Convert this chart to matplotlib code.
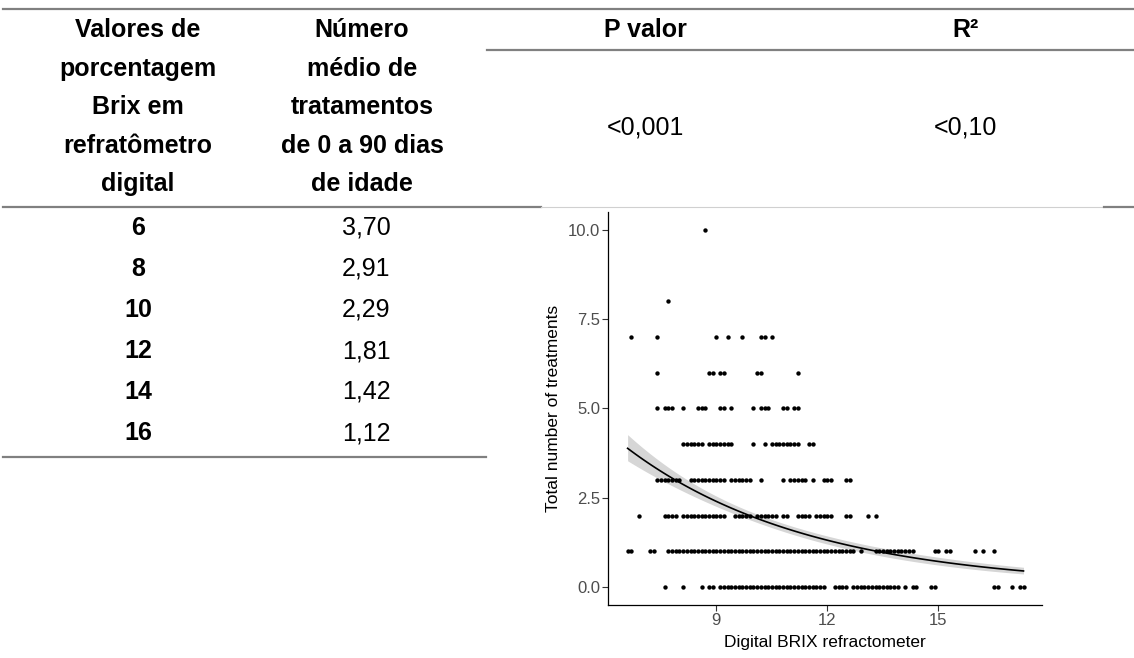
import numpy as np
import matplotlib
matplotlib.use("Agg")
from matplotlib import pyplot as plt
from matplotlib.lines import Line2D

plt.rcParams['font.family'] = ['Liberation Sans', 'DejaVu Sans']

# table data
brix_levels = [6, 8, 10, 12, 14, 16]
mean_treatments = [3.70, 2.91, 2.29, 1.81, 1.42, 1.12]
p_value = "<0,001"
r_squared = "<0,10"

# scatter data: Brix readings for each count of treatments
brix_0 = [7.6, 8.1, 8.6, 8.8, 8.9,
          9.1, 9.2, 9.3, 9.4, 9.5, 9.6, 9.7, 9.8, 9.9, 10.0, 10.1, 10.2, 10.3, 10.4,
          10.5, 10.6, 10.7, 10.8, 10.9, 11.0, 11.1, 11.2, 11.3, 11.4, 11.5, 11.6, 11.7,
          11.8, 11.9,
          12.2, 12.3, 12.4, 12.5,
          12.7, 12.8, 12.9, 13.0, 13.1, 13.2, 13.3, 13.4, 13.5, 13.6, 13.7, 13.8, 13.9,
          14.1, 14.3, 14.4, 14.8, 14.9, 16.5, 16.6, 17.0, 17.2, 17.3]
brix_1 = [6.6, 6.7, 7.2, 7.3,
          7.7, 7.8, 7.9, 8.0, 8.1, 8.2, 8.3, 8.4, 8.5, 8.6, 8.7, 8.8, 8.9, 9.0, 9.1,
          9.2, 9.3, 9.4, 9.5, 9.6, 9.7, 9.8, 9.9, 10.0, 10.1, 10.2, 10.3, 10.4, 10.5,
          10.6, 10.7, 10.8, 10.9, 11.0, 11.1, 11.2, 11.3, 11.4, 11.5, 11.6, 11.7, 11.8,
          11.9, 12.0, 12.1, 12.2, 12.3, 12.4, 12.5, 12.6, 12.7,
          12.9,
          13.3, 13.4, 13.5, 13.6, 13.7, 13.8, 13.9, 14.0, 14.1, 14.2, 14.3,
          14.9, 15.0, 15.2, 15.3, 16.0, 16.2, 16.5]
brix_2 = [6.9, 7.6, 7.7, 7.8, 7.9,
          8.1, 8.2, 8.3, 8.4, 8.5, 8.6, 8.7, 8.8, 8.9, 9.0, 9.1, 9.2,
          9.5, 9.6, 9.7, 9.8, 9.9,
          10.1, 10.2, 10.3, 10.4, 10.5, 10.6, 10.8, 10.9,
          11.2, 11.3, 11.4, 11.5, 11.7, 11.8, 11.9, 12.0, 12.1,
          12.5, 12.6, 13.1, 13.3]
brix_3 = [7.4, 7.5, 7.6, 7.7, 7.8, 7.9, 8.0,
          8.3, 8.4, 8.5, 8.6, 8.7, 8.8, 8.9, 9.0, 9.1, 9.2,
          9.4, 9.5, 9.6, 9.7, 9.8, 9.9,
          10.2, 10.8, 11.0, 11.1, 11.2, 11.3, 11.4, 11.6,
          11.9, 12.0, 12.1, 12.5, 12.6]
brix_4 = [8.1, 8.2, 8.3, 8.4, 8.5, 8.6,
          8.8, 8.9, 9.0, 9.1, 9.2, 9.3, 9.4,
          10.0, 10.3, 10.5, 10.6, 10.7, 10.8, 10.9, 11.0, 11.1, 11.2,
          11.5, 11.6]
brix_5 = [7.4, 7.6, 7.7, 7.8, 8.1, 8.5, 8.6, 8.7, 9.1, 9.2, 9.4,
          10.0, 10.2, 10.3, 10.4, 10.8, 10.9, 11.1, 11.2]
brix_6 = [7.4, 8.8, 8.9, 9.1, 9.2, 10.1, 10.2, 11.2]
brix_7 = [6.7, 7.4, 9.0, 9.3, 9.7, 10.2, 10.3, 10.5]
brix_8 = [7.7]
brix_10 = [8.7]

# poisson curve: log(mu) = a + b*x, se on the link scale
fit_intercept = 2.683
fit_slope = -0.201
se_center = 0.030
se_spread = 0.0129
se_x0 = 9.5

groups = {0: brix_0, 1: brix_1, 2: brix_2, 3: brix_3, 4: brix_4,
          5: brix_5, 6: brix_6, 7: brix_7, 8: brix_8, 10: brix_10}
x = np.concatenate([np.array(v, dtype=float) for v in groups.values()])
y = np.concatenate([np.full(len(v), k, dtype=float) for k, v in groups.items()])

xg = np.linspace(x.min(), x.max(), 100)
eta_g = fit_intercept + fit_slope * xg
se_g = np.sqrt(se_center ** 2 + se_spread ** 2 * (xg - se_x0) ** 2)
fit = np.exp(eta_g)
lo = np.exp(eta_g - 1.96 * se_g)
hi = np.exp(eta_g + 1.96 * se_g)

W, H = 1134, 658
fig = plt.figure(figsize=(W / 100, H / 100), dpi=100)


def fx(px):
    return px / W


def fy(py):
    return 1 - py / H


def hline(x0, x1, yy, color="#808080", lw=1.6):
    fig.add_artist(Line2D([fx(x0), fx(x1)], [fy(yy), fy(yy)], color=color, lw=lw))


# table rules
hline(3, W, 9)
hline(487, W, 50)
hline(3, 541, 207)
hline(541, 1104, 207, color="#d0d0d0", lw=0.8)
hline(1104, W, 207)
hline(3, 486, 457)

fs = 18
col1 = ["Valores de", "porcentagem", "Brix em", "refratômetro", "digital"]
col2 = ["Número", "médio de", "tratamentos", "de 0 a 90 dias", "de idade"]
line_y = [30, 69, 107, 146, 184]
for i in range(5):
    fig.text(fx(138), fy(line_y[i]), col1[i], ha="center", va="center",
             fontsize=fs, fontweight="bold")
    fig.text(fx(362), fy(line_y[i]), col2[i], ha="center", va="center",
             fontsize=fs, fontweight="bold")

fig.text(fx(645), fy(30), "P valor", ha="center", va="center", fontsize=fs, fontweight="bold")
fig.text(fx(965), fy(30), "R²", ha="center", va="center", fontsize=fs, fontweight="bold")
fig.text(fx(645), fy(127), p_value, ha="center", va="center", fontsize=fs)
fig.text(fx(965), fy(127), r_squared, ha="center", va="center", fontsize=fs)

row_y = [228, 269, 310, 351, 392, 433]
for i in range(len(brix_levels)):
    fig.text(fx(138), fy(row_y[i]), str(brix_levels[i]), ha="center", va="center",
             fontsize=fs, fontweight="bold")
    fig.text(fx(366), fy(row_y[i]), f"{mean_treatments[i]:.2f}".replace(".", ","),
             ha="center", va="center", fontsize=fs)

# scatter panel
ax = fig.add_axes([fx(608), fy(605), (1042 - 608) / W, (605 - 211.7) / H])
ax.fill_between(xg, lo, hi, color="#d6d6d6", lw=0, zorder=1)
ax.scatter(x, y, s=10, color="black", lw=0, zorder=2)
ax.plot(xg, fit, color="black", lw=1.2, zorder=3)

ax.set_xlim(6.07, 17.8)
ax.set_ylim(-0.5, 10.5)
ax.set_xticks([9, 12, 15])
ax.set_yticks([0, 2.5, 5, 7.5, 10])
ax.set_yticklabels(["0.0", "2.5", "5.0", "7.5", "10.0"])
ax.tick_params(colors="#333333", labelcolor="#4d4d4d", labelsize=12, length=4,
               width=0.8, pad=1.5)
ax.spines["top"].set_visible(False)
ax.spines["right"].set_visible(False)
for s in ["left", "bottom"]:
    ax.spines[s].set_linewidth(0.9)
ax.set_xlabel("Digital BRIX refractometer", fontsize=12.5, labelpad=5)
ax.set_ylabel("Total number of treatments", fontsize=12.5, labelpad=5)

fig.savefig("out.png", dpi=100)
